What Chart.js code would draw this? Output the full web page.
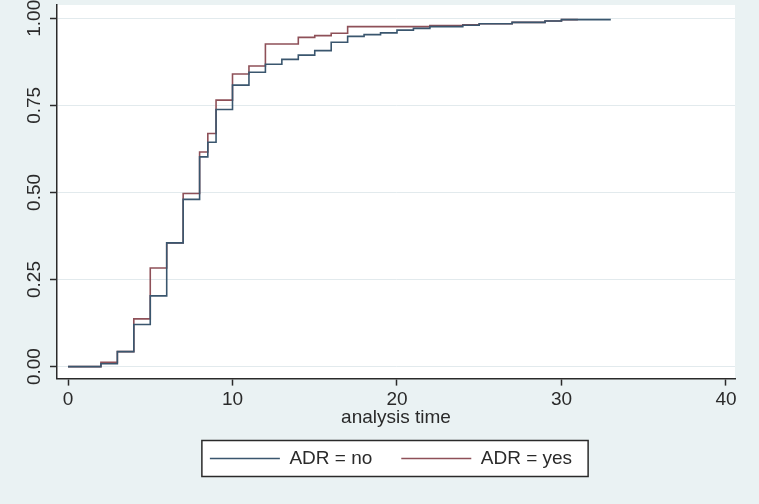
<!DOCTYPE html>
<html>
<head>
<meta charset="utf-8">
<script src="https://cdn.jsdelivr.net/npm/chart.js@4.4.1/dist/chart.umd.min.js"></script>
<style>
  html, body { margin: 0; padding: 0; background: #eaf2f3; }
</style>
</head>
<body>
<canvas id="chart" width="759" height="504"></canvas>
<script>
// Kaplan-Meier failure estimates
const timeNo  = [0, 2, 3, 4, 5, 6, 7, 8, 8.5, 9, 10, 11, 12, 13, 14, 15, 16, 17, 18, 19, 20, 21, 22, 24, 25, 27, 29, 30, 33];
const failNo  = [0, 0.008, 0.043, 0.121, 0.203, 0.355, 0.480, 0.602, 0.644, 0.738, 0.808, 0.845, 0.868, 0.882, 0.894, 0.907, 0.931, 0.948, 0.953, 0.958, 0.966, 0.971, 0.976, 0.980, 0.984, 0.988, 0.992, 0.996, 0.996];
const timeYes = [0, 2, 3, 4, 5, 6, 7, 8, 8.5, 9, 10, 11, 12, 14, 15, 16, 17, 22, 24, 25, 27, 29, 30, 31];
const failYes = [0, 0.012, 0.043, 0.137, 0.283, 0.355, 0.497, 0.616, 0.669, 0.765, 0.840, 0.863, 0.926, 0.945, 0.950, 0.957, 0.976, 0.979, 0.981, 0.984, 0.988, 0.992, 0.996, 0.996];
const seriesNames = ['ADR = no', 'ADR = yes'];
const xTicks = [0, 10, 20, 30, 40];
const yTicks = [0, 0.25, 0.5, 0.75, 1];

const BG = '#eaf2f3';
const INK = '#2a2a2a';
const FONT = "'Liberation Sans', Arial, sans-serif";

Chart.defaults.font.family = FONT;
Chart.defaults.font.size = 19;
Chart.defaults.color = INK;

function toPoints(xs, ys) {
    return xs.map(function (x, i) { return { x: x, y: ys[i] }; });
}

// background, white plot region and the framed legend
const stataFrame = {
    id: 'stataFrame',
    afterLayout: function (chart) {
        const lg = chart.legend;
        const ca = chart.chartArea;
        lg.left = ca.left - 5;
        lg.right = ca.right - 5;
        lg.width = lg.right - lg.left;
        const shift = lg.top - (chart.scales.x.bottom - 9);
        lg.top -= shift;
        lg.bottom -= shift;
    },
    beforeDraw: function (chart) {
        const ctx = chart.ctx;
        const ca = chart.chartArea;
        ctx.save();
        ctx.fillStyle = BG;
        ctx.fillRect(0, 0, chart.width, chart.height);
        ctx.fillStyle = '#ffffff';
        ctx.fillRect(ca.left, ca.top, ca.right - ca.left, ca.bottom - ca.top);

        const boxes = chart.legend.legendHitBoxes;
        if (boxes && boxes.length) {
            const first = boxes[0];
            const last = boxes[boxes.length - 1];
            const x0 = first.left - 8;
            const x1 = last.left + last.width + 16;
            const yc = first.top + first.height / 2;
            ctx.fillStyle = '#ffffff';
            ctx.fillRect(x0, yc - 18, x1 - x0, 36);
            ctx.strokeStyle = INK;
            ctx.lineWidth = 1.5;
            ctx.strokeRect(x0, yc - 18, x1 - x0, 36);
        }
        ctx.restore();
    }
};

const ctx = document.getElementById('chart').getContext('2d');
const chart = new Chart(ctx, {
    type: 'line',
    data: {
        datasets: [{
            label: seriesNames[0],
            data: toPoints(timeNo, failNo),
            borderColor: '#3a566e',
            backgroundColor: '#3a566e',
            borderWidth: 1.6,
            stepped: true,
            pointRadius: 0,
            fill: false
        }, {
            label: seriesNames[1],
            data: toPoints(timeYes, failYes),
            borderColor: '#8e5058',
            backgroundColor: '#8e5058',
            borderWidth: 1.6,
            stepped: true,
            pointRadius: 0,
            fill: false
        }]
    },
    options: {
        responsive: false,
        animation: false,
        layout: {
            padding: { top: 5, right: 24, bottom: 17, left: 0 }
        },
        plugins: {
            title: { display: false },
            tooltip: { enabled: false },
            legend: {
                display: true,
                position: 'bottom',
                labels: {
                    usePointStyle: true,
                    pointStyle: 'line',
                    pointStyleWidth: 70,
                    padding: 29,
                    color: INK,
                    font: { size: 19 }
                }
            }
        },
        scales: {
            x: {
                type: 'linear',
                min: -0.67,
                max: 40.55,
                afterBuildTicks: function (scale) {
                    scale.ticks = xTicks.map(function (v) { return { value: v }; });
                },
                afterFit: function (scale) {
                    scale.height = 50.4;
                },
                ticks: {
                    padding: 3,
                    color: INK,
                    font: { size: 19 },
                    callback: function (v) { return String(v); }
                },
                grid: {
                    drawOnChartArea: false,
                    tickLength: 7,
                    tickColor: INK,
                    tickWidth: 1.5
                },
                border: { display: true, color: INK, width: 1.5 },
                title: {
                    display: true,
                    text: 'analysis time',
                    color: INK,
                    font: { size: 19 },
                    padding: { top: 0, bottom: 0 }
                }
            },
            y: {
                type: 'linear',
                min: -0.0345,
                max: 1.038,
                afterBuildTicks: function (scale) {
                    scale.ticks = yTicks.map(function (v) { return { value: v }; });
                },
                afterFit: function (scale) {
                    scale.width = 57;
                    scale.paddingTop = 0;
                    scale.paddingBottom = 0;
                },
                ticks: {
                    padding: -3,
                    minRotation: 90,
                    maxRotation: 90,
                    crossAlign: 'center',
                    color: INK,
                    font: { size: 19 },
                    callback: function (v) { return v.toFixed(2); }
                },
                grid: {
                    color: '#e2eaed',
                    lineWidth: 1,
                    tickLength: 7,
                    tickColor: INK,
                    tickWidth: 1.5
                },
                border: { display: true, color: INK, width: 1.5 }
            }
        }
    },
    plugins: [stataFrame]
});
</script>
</body>
</html>
